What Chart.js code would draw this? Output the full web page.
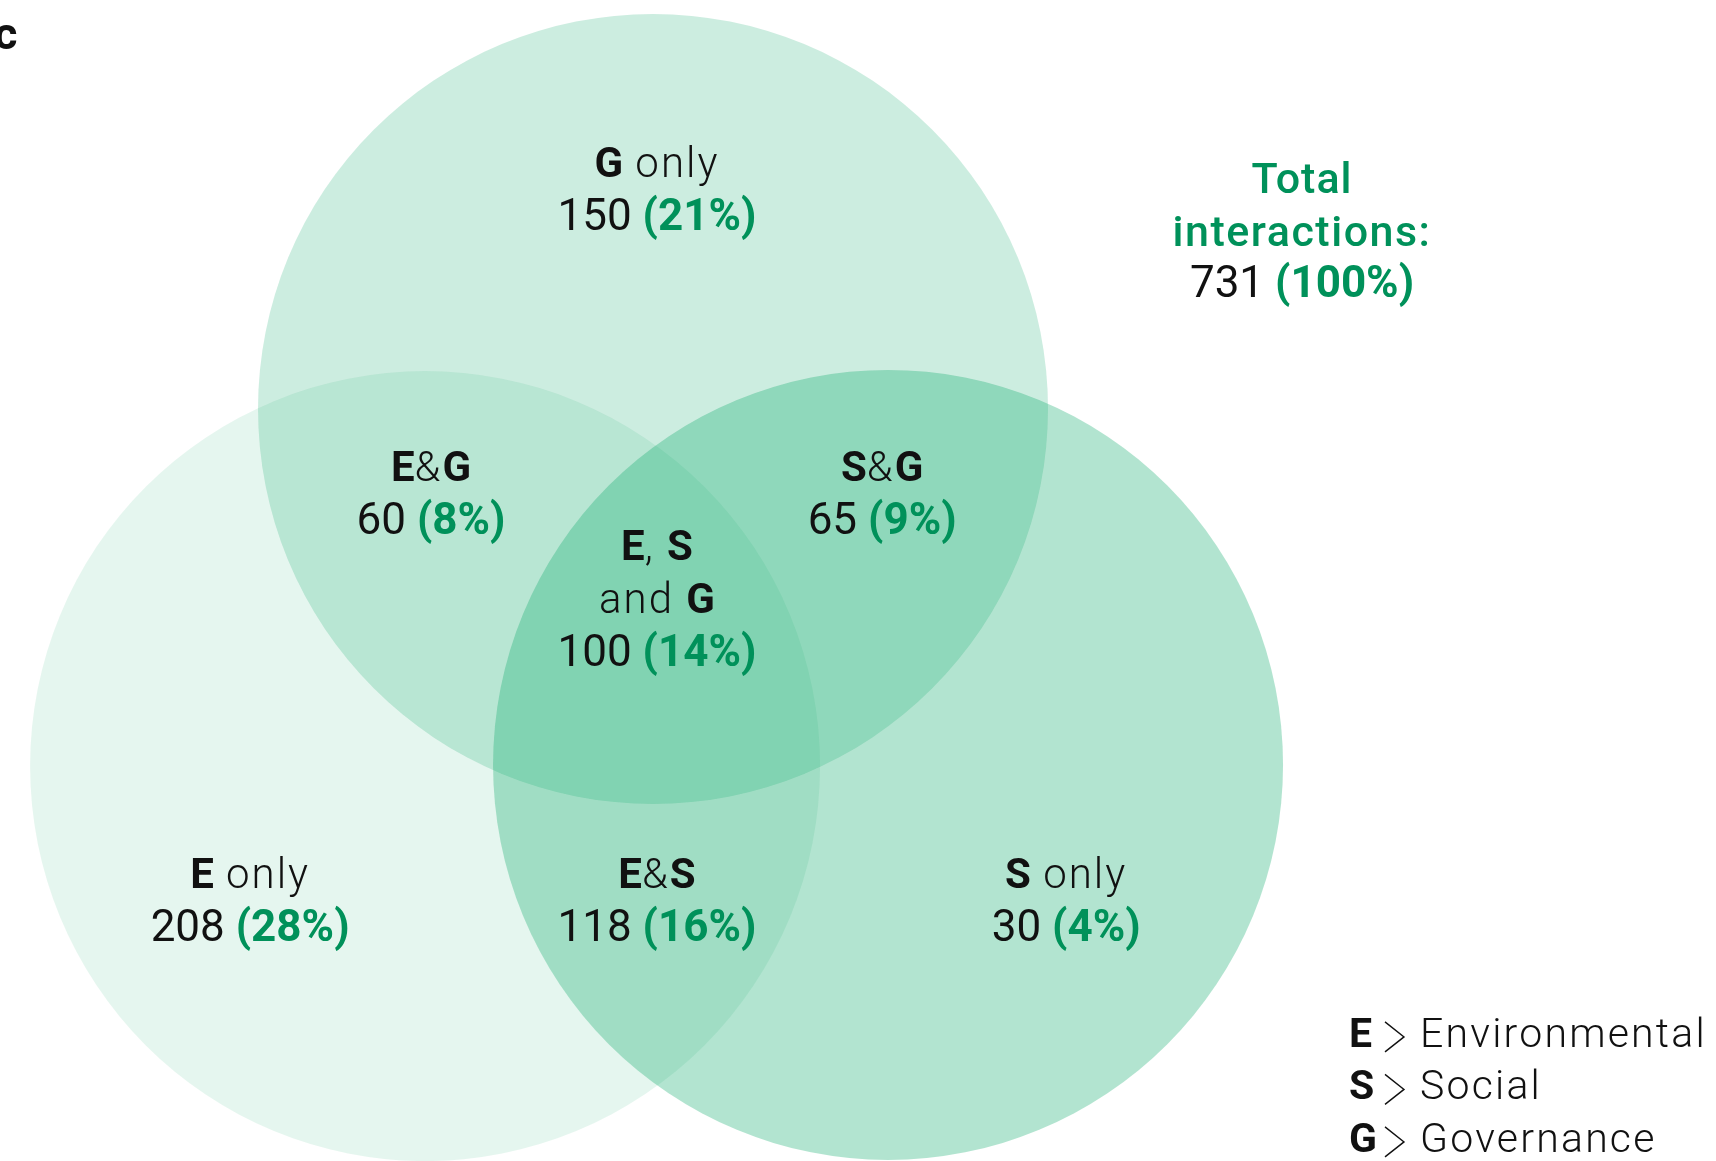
<!DOCTYPE html>
<html>
<head>
<meta charset="utf-8">
<title>ESG interactions</title>
<script src="https://cdn.jsdelivr.net/npm/chart.js@4.4.1/dist/chart.umd.min.js"></script>
<style>
  html, body { margin: 0; padding: 0; background: #fff; }
  #wrap { position: relative; width: 1716px; height: 1161px; }
</style>
</head>
<body>
<div id="wrap"><canvas id="venn"></canvas></div>
<script>
// --- data ---
const setKeys = ['E', 'G', 'S'];
const regionNames = ['E only', 'G only', 'S only', 'E&G', 'S&G', 'E&S', 'E, S and G'];
const regionCounts = [208, 150, 30, 60, 65, 118, 100];
const regionPercents = [28, 21, 4, 8, 9, 16, 14];
const totalCount = 731;
const totalPercent = 100;
const legendKeys = ['E', 'S', 'G'];
const legendNames = ['Environmental', 'Social', 'Governance'];
const panelLetter = 'c';

// --- layout (units = circle radius, G centre at origin) ---
const circleRadius = 1;
const circleCenters = { E: [-0.577, -0.904], G: [0, 0], S: [0.595, -0.901] };
const circleAlpha = { E: 0.1, G: 0.2, S: 0.3 };
// first baseline of each region label
const regionAnchors = [
  [-1.020, -1.213], [0.010, 0.587], [1.046, -1.213],
  [-0.562, -0.182], [0.580, -0.182], [0.010, -1.213], [0.010, -0.382]
];
const regionLineBreaks = { 'E, S and G': ['E, S', 'and G'] };
const totalAnchor = [1.643, 0.547];
const legendAnchor = [1.762, -1.615];

const GREEN = '#00915a';
const INK = '#111111';
const FONT = 'Roboto, "Open Sans", sans-serif';
const LINE_GAP = 53;

function fill(alpha) { return `rgba(0, 166, 100, ${alpha})`; }

// draw a line made of styled pieces, centred or left aligned
function drawPieces(ctx, pieces, x, y, align) {
  const widths = pieces.map(p => {
    ctx.font = `${p.weight} ${p.size}px ${FONT}`;
    ctx.letterSpacing = (p.spacing || 0) + 'px';
    return ctx.measureText(p.text).width;
  });
  const total = widths.reduce((a, b) => a + b, 0);
  let cx = align === 'left' ? x : x - total / 2;
  pieces.forEach((p, i) => {
    ctx.font = `${p.weight} ${p.size}px ${FONT}`;
    ctx.letterSpacing = (p.spacing || 0) + 'px';
    ctx.fillStyle = p.color;
    ctx.fillText(p.text, cx, y);
    cx += widths[i];
  });
  ctx.letterSpacing = '0px';
}

function nameLine(str) {
  // set letters bold, the rest light
  return str.split(/([ESG])/).filter(s => s.length).map(s => (
    /^[ESG]$/.test(s)
      ? { text: s, weight: 700, size: 42, color: INK }
      : { text: s, weight: 300, size: 42, color: INK, spacing: 2 }
  ));
}

function countLine(n, pct) {
  return [
    { text: n + ' ', weight: 400, size: 44, color: INK },
    { text: '(' + pct + '%)', weight: 700, size: 44, color: GREEN }
  ];
}

const labelPlugin = {
  id: 'vennLabels',
  afterDatasetsDraw(chart) {
    const ctx = chart.ctx;
    const xs = chart.scales.x, ys = chart.scales.y;
    ctx.save();
    ctx.textBaseline = 'alphabetic';
    ctx.textAlign = 'left';

    regionNames.forEach((name, i) => {
      const lines = (regionLineBreaks[name] || [name]).map(nameLine);
      lines.push(countLine(regionCounts[i], regionPercents[i]));
      const px = xs.getPixelForValue(regionAnchors[i][0]);
      const py = ys.getPixelForValue(regionAnchors[i][1]);
      lines.forEach((ln, k) => drawPieces(ctx, ln, px, py + k * LINE_GAP, 'center'));
    });

    // total block
    const tx = xs.getPixelForValue(totalAnchor[0]);
    const ty = ys.getPixelForValue(totalAnchor[1]);
    drawPieces(ctx, [{ text: 'Total', weight: 500, size: 43, color: GREEN, spacing: 1 }], tx, ty, 'center');
    drawPieces(ctx, [{ text: 'interactions:', weight: 500, size: 43, color: GREEN, spacing: 1.5 }], tx, ty + LINE_GAP, 'center');
    drawPieces(ctx, countLine(totalCount, totalPercent), tx, ty + LINE_GAP * 2 - 2, 'center');

    // legend
    const lx = xs.getPixelForValue(legendAnchor[0]);
    const ly = ys.getPixelForValue(legendAnchor[1]);
    legendKeys.forEach((k, i) => {
      const by = ly + i * 52.5;
      drawPieces(ctx, [{ text: k, weight: 700, size: 41, color: INK }], lx, by, 'left');
      ctx.strokeStyle = INK;
      ctx.lineWidth = 1.4;
      ctx.beginPath();
      ctx.moveTo(lx + 36, by - 25);
      ctx.lineTo(lx + 55, by - 10);
      ctx.lineTo(lx + 36, by + 5);
      ctx.stroke();
      drawPieces(ctx, [{ text: legendNames[i], weight: 300, size: 41, color: INK, spacing: 2.2 }], lx + 71, by, 'left');
    });

    // panel letter
    drawPieces(ctx, [{ text: panelLetter, weight: 700, size: 45, color: INK }], -6, 49, 'left');
    ctx.restore();
  }
};

const datasets = setKeys.map(k => ({
  label: k,
  data: [{ x: circleCenters[k][0], y: circleCenters[k][1] }],
  backgroundColor: fill(circleAlpha[k]),
  borderWidth: 0,
  pointBorderWidth: 0,
  pointRadius: ctx => {
    const s = ctx.chart.scales.x;
    return s.getPixelForValue(circleRadius) - s.getPixelForValue(0);
  },
  pointHoverRadius: ctx => {
    const s = ctx.chart.scales.x;
    return s.getPixelForValue(circleRadius) - s.getPixelForValue(0);
  }
}));

new Chart(document.getElementById('venn'), {
  type: 'scatter',
  data: { datasets },
  options: {
    responsive: true,
    maintainAspectRatio: false,
    animation: false,
    events: [],
    layout: { padding: 0 },
    plugins: { legend: { display: false }, tooltip: { enabled: false } },
    scales: {
      x: { type: 'linear', min: -1.6532, max: 2.6911, display: false },
      y: { type: 'linear', min: -1.9038, max: 1.0354, display: false }
    }
  },
  plugins: [labelPlugin]
});
</script>
</body>
</html>
